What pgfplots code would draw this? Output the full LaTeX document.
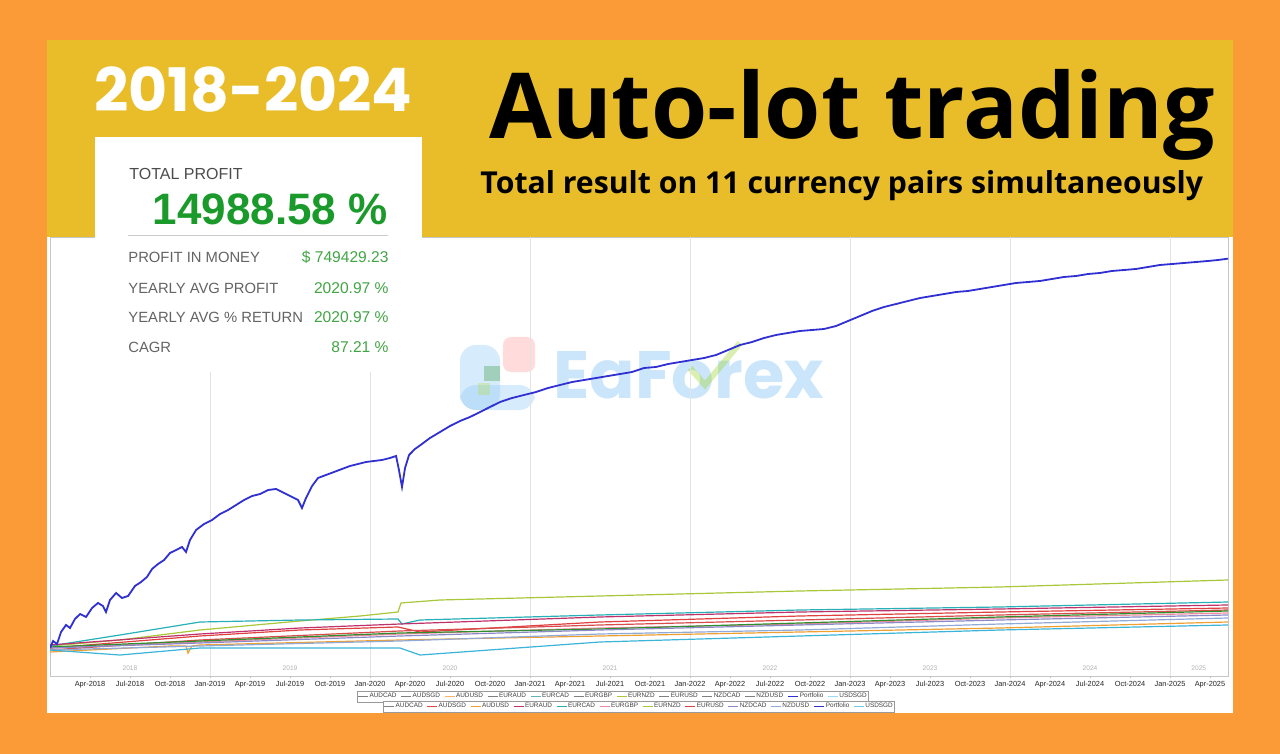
\documentclass[border=0pt]{standalone}
\usepackage{pgfplots}
\pgfplotsset{compat=1.18}
\usepackage{fontspec}
\setmainfont{Liberation Sans}
\newfontfamily\popfont{Poppins}
\newfontfamily\opfont{Open Sans}
\definecolor{bgorange}{RGB}{250,155,55}
\definecolor{bandyellow}{RGB}{233,189,42}
\definecolor{pblue}{RGB}{48,48,210}
\definecolor{bignum}{RGB}{26,154,42}
\definecolor{valgreen}{RGB}{66,165,69}
\definecolor{lblgray}{RGB}{100,100,100}
\definecolor{cEURNZD}{RGB}{168,200,58}
\definecolor{cEURCAD}{RGB}{40,176,184}
\definecolor{cEURAUD}{RGB}{192,48,106}
\definecolor{cEURUSD}{RGB}{224,64,64}
\definecolor{cAUDSGD}{RGB}{217,76,76}
\definecolor{cEURGBP}{RGB}{240,138,160}
\definecolor{cAUDCAD}{RGB}{47,143,47}
\definecolor{cAUDUSD}{RGB}{240,160,48}
\definecolor{cNZDCAD}{RGB}{138,138,200}
\definecolor{cNZDUSD}{RGB}{144,170,216}
\definecolor{cUSDSGD}{RGB}{58,181,216}
\definecolor{wmblue}{RGB}{140,200,245}
\pgfplotsset{
  mylegend/.style={
    legend columns=12,
    legend cell align=left,
    legend image code/.code={\draw[##1] (0pt,0pt) -- (5pt,0pt);},
    legend style={anchor=north west,
      font=\fontsize{3.2}{3.4}\selectfont, text=black!75, draw=gray!80, fill=white,
      inner sep=0.4pt, outer sep=0pt, nodes={inner sep=0.5pt},
      /tikz/every even column/.append style={column sep=1.6pt}},
  }
}
\begin{document}
\begin{tikzpicture}
% ---------- background ----------
\begin{scope}[x=0.5pt,y=-0.5pt]
\fill[bgorange] (0,0) rectangle (1280,754);
\fill[white] (47,40) rectangle (1233,713);
\fill[bandyellow] (47,40) rectangle (1233,237);
% watermark
\fill[wmblue,opacity=0.35,rounded corners=8pt] (460,345) rectangle (500,410);
\fill[wmblue,opacity=0.35,rounded corners=8pt] (460,385) rectangle (535,410);
\fill[red!40,opacity=0.35,rounded corners=4pt] (503,337) rectangle (535,372);
\fill[green!50!black,opacity=0.25] (484,366) rectangle (500,381);
\fill[yellow!70!green,opacity=0.25] (478,383) rectangle (490,395);
\node[anchor=base west,inner sep=0,text=wmblue,opacity=0.45,font=\popfont\bfseries\fontsize{33.5}{34}\selectfont] at (553,398) {EaForex};
\draw[yellow!60!green,opacity=0.35,line width=3pt] (690,368) -- (705,385) -- (740,343);
\end{scope}
% legend row 1 (drawn first, behind row 2)
\begin{axis}[
  at={(25pt,-338pt)}, anchor=south west,
  width=589pt, height=219.5pt, scale only axis,
  hide axis, xmin=0, xmax=1, ymin=0, ymax=1,
  mylegend,
  legend style={at={(0.2606,-0.0342)}},
]
\addlegendimage{gray}\addlegendentry{AUDCAD}
\addlegendimage{gray}\addlegendentry{AUDSGD}
\addlegendimage{orange!60}\addlegendentry{AUDUSD}
\addlegendimage{gray}\addlegendentry{EURAUD}
\addlegendimage{teal!60}\addlegendentry{EURCAD}
\addlegendimage{gray}\addlegendentry{EURGBP}
\addlegendimage{cEURNZD}\addlegendentry{EURNZD}
\addlegendimage{gray}\addlegendentry{EURUSD}
\addlegendimage{gray}\addlegendentry{NZDCAD}
\addlegendimage{gray}\addlegendentry{NZDUSD}
\addlegendimage{pblue,line width=0.8pt}\addlegendentry{Portfolio}
\addlegendimage{cyan!40}\addlegendentry{USDSGD}
\end{axis}
% ---------- main chart ----------
\begin{axis}[
  at={(25pt,-338pt)}, anchor=south west,
  width=589pt, height=219.5pt, scale only axis,
  xmin=2018, xmax=2025.3625,
  ymin=-1078, ymax=15823,
  ytick=\empty,
  xtick={2018.25,2018.5,2018.75,2019,2019.25,2019.5,2019.75,2020,2020.25,2020.5,2020.75,2021,2021.25,2021.5,2021.75,2022,2022.25,2022.5,2022.75,2023,2023.25,2023.5,2023.75,2024,2024.25,2024.5,2024.75,2025,2025.25},
  xticklabels={Apr-2018,Jul-2018,Oct-2018,Jan-2019,Apr-2019,Jul-2019,Oct-2019,Jan-2020,Apr-2020,Jul-2020,Oct-2020,Jan-2021,Apr-2021,Jul-2021,Oct-2021,Jan-2022,Apr-2022,Jul-2022,Oct-2022,Jan-2023,Apr-2023,Jul-2023,Oct-2023,Jan-2024,Apr-2024,Jul-2024,Oct-2024,Jan-2025,Apr-2025},
  xticklabel style={font=\fontsize{3.7}{4}\selectfont, text=black!85, yshift=2.2pt},
  tick align=outside, major tick length=1.2pt,
  xtick pos=bottom,
  tick style={gray!50},
  extra x ticks={2019,2020,2021,2022,2023,2024,2025},
  extra x tick labels={},
  extra x tick style={grid=major, major grid style={gray!22, line width=0.5pt}, major tick length=0pt},
  axis line style={gray!45},
  clip=true,
  mylegend,
  legend style={at={(0.2827,-0.057)}},
]
\addplot[forget plot, cEURNZD, line width=0.6pt] coordinates {
(2018.000,77) (2018.4375,308) (2018.9375,693) (2019.5625,1040) (2019.9375,1232) (2020.175,1386) (2020.194,1733) (2020.4375,1848) (2021.4375,2002) (2022.6875,2195) (2023.9375,2349) (2025.3625,2618)};
\addplot[forget plot, cEURCAD, line width=0.6pt] coordinates {
(2018.000,77) (2018.4375,501) (2018.9375,1001) (2019.5625,1078) (2020.175,1117) (2020.20,924) (2020.3125,1078) (2021.4375,1271) (2022.6875,1463) (2023.9375,1579) (2025.3625,1771)};
\addplot[forget plot, cEURAUD, line width=0.6pt] coordinates {
(2018.000,116) (2018.9375,539) (2019.5625,770) (2020.1875,924) (2021.4375,1194) (2022.6875,1386) (2023.9375,1502) (2025.3625,1656)};
\addplot[forget plot, cEURUSD, line width=0.6pt] coordinates {
(2018.000,0) (2018.9375,462) (2019.5625,693) (2020.175,809) (2020.3125,616) (2021.4375,1001) (2022.6875,1232) (2023.9375,1386) (2025.3625,1540)};
\addplot[forget plot, cAUDSGD, line width=0.6pt] coordinates {
(2018.000,-77) (2018.9375,308) (2020.1875,655) (2021.4375,886) (2022.6875,1078) (2023.9375,1271) (2025.3625,1463)};
\addplot[forget plot, cEURGBP, line width=0.6pt] coordinates {
(2018.000,0) (2018.9375,231) (2020.1875,539) (2021.4375,770) (2022.6875,924) (2023.9375,1155) (2025.3625,1348)};
\addplot[forget plot, cAUDCAD, line width=0.6pt] coordinates {
(2018.000,39) (2018.9375,270) (2020.1875,578) (2021.4375,732) (2022.6875,963) (2023.9375,1194) (2025.3625,1425)};
\addplot[forget plot, cAUDUSD, line width=0.6pt] coordinates {
(2018.000,-154) (2018.75,77) (2018.85,77) (2018.8625,-193) (2018.8875,77) (2018.9375,116) (2020.1875,308) (2021.4375,462) (2022.6875,616) (2023.9375,770) (2025.3625,1001)};
\addplot[forget plot, cNZDCAD, line width=0.6pt] coordinates {
(2018.000,0) (2018.9375,193) (2020.1875,462) (2021.4375,693) (2022.6875,886) (2023.9375,1078) (2025.3625,1271)};
\addplot[forget plot, cNZDUSD, line width=0.6pt] coordinates {
(2018.000,-77) (2018.9375,77) (2020.1875,270) (2021.4375,539) (2022.6875,693) (2023.9375,924) (2025.3625,1155)};
\addplot[forget plot, cUSDSGD, line width=0.6pt] coordinates {
(2018.000,-77) (2018.4375,-270) (2018.9375,0) (2020.1875,0) (2020.3125,-270) (2021.4375,231) (2022.6875,462) (2023.9375,693) (2025.3625,886)};
\addplot[forget plot, pblue, line width=0.9pt] coordinates {
(2018.000,0) (2018.019,270) (2018.044,154) (2018.069,616) (2018.100,886) (2018.125,770) (2018.156,1117) (2018.188,1309) (2018.225,1194) (2018.263,1540) (2018.300,1733) (2018.331,1617) (2018.350,1386) (2018.375,1848) (2018.413,2118) (2018.450,1925) (2018.488,2002) (2018.531,2387) (2018.569,2541) (2018.606,2734) (2018.638,3042) (2018.675,3234) (2018.713,3388) (2018.750,3658) (2018.788,3773) (2018.825,3889) (2018.850,3696) (2018.875,4158) (2018.913,4543) (2018.963,4774) (2019.013,4928) (2019.063,5159) (2019.113,5313) (2019.163,5506) (2019.213,5698) (2019.263,5852) (2019.313,5929) (2019.363,6083) (2019.413,6122) (2019.463,5968) (2019.513,5814) (2019.550,5698) (2019.575,5390) (2019.600,5775) (2019.638,6237) (2019.675,6545) (2019.725,6661) (2019.775,6776) (2019.825,6892) (2019.875,7007) (2019.925,7084) (2019.975,7161) (2020.025,7200) (2020.075,7238) (2020.125,7315) (2020.163,7392) (2020.181,6853) (2020.200,6199) (2020.219,6930) (2020.244,7431) (2020.281,7662) (2020.325,7854) (2020.375,8085) (2020.438,8316) (2020.500,8547) (2020.563,8740) (2020.625,8894) (2020.688,9086) (2020.750,9279) (2020.813,9471) (2020.888,9625) (2020.963,9741) (2021.038,9856) (2021.113,10010) (2021.188,10126) (2021.263,10241) (2021.338,10318) (2021.413,10395) (2021.488,10472) (2021.563,10549) (2021.638,10626) (2021.713,10780) (2021.788,10819) (2021.863,10934) (2021.938,11011) (2022.013,11088) (2022.088,11165) (2022.163,11281) (2022.238,11473) (2022.313,11666) (2022.388,11781) (2022.463,11935) (2022.538,12051) (2022.613,12128) (2022.688,12205) (2022.763,12243) (2022.838,12282) (2022.913,12397) (2022.988,12590) (2023.063,12782) (2023.138,12975) (2023.213,13129) (2023.288,13244) (2023.363,13360) (2023.438,13475) (2023.513,13552) (2023.588,13629) (2023.663,13706) (2023.738,13745) (2023.813,13822) (2023.888,13899) (2023.963,13976) (2024.038,14053) (2024.113,14091) (2024.188,14130) (2024.263,14207) (2024.338,14284) (2024.413,14322) (2024.488,14399) (2024.563,14438) (2024.638,14515) (2024.713,14553) (2024.788,14592) (2024.863,14669) (2024.938,14746) (2025.013,14784) (2025.088,14823) (2025.163,14861) (2025.238,14900) (2025.300,14938) (2025.363,14989)};
% legend row 2
\addlegendimage{gray}\addlegendentry{AUDCAD}
\addlegendimage{cAUDSGD}\addlegendentry{AUDSGD}
\addlegendimage{cAUDUSD}\addlegendentry{AUDUSD}
\addlegendimage{cEURAUD}\addlegendentry{EURAUD}
\addlegendimage{cEURCAD}\addlegendentry{EURCAD}
\addlegendimage{cEURGBP}\addlegendentry{EURGBP}
\addlegendimage{cEURNZD}\addlegendentry{EURNZD}
\addlegendimage{cEURUSD}\addlegendentry{EURUSD}
\addlegendimage{cNZDCAD}\addlegendentry{NZDCAD}
\addlegendimage{cNZDUSD}\addlegendentry{NZDUSD}
\addlegendimage{pblue,line width=0.8pt}\addlegendentry{Portfolio}
\addlegendimage{cUSDSGD!70}\addlegendentry{USDSGD}
% year labels
\node[font=\fontsize{3.3}{4}\selectfont, text=gray!60] at (axis cs:2018.5,-770) {2018};
\node[font=\fontsize{3.3}{4}\selectfont, text=gray!60] at (axis cs:2019.5,-770) {2019};
\node[font=\fontsize{3.3}{4}\selectfont, text=gray!60] at (axis cs:2020.5,-770) {2020};
\node[font=\fontsize{3.3}{4}\selectfont, text=gray!60] at (axis cs:2021.5,-770) {2021};
\node[font=\fontsize{3.3}{4}\selectfont, text=gray!60] at (axis cs:2022.5,-770) {2022};
\node[font=\fontsize{3.3}{4}\selectfont, text=gray!60] at (axis cs:2023.5,-770) {2023};
\node[font=\fontsize{3.3}{4}\selectfont, text=gray!60] at (axis cs:2024.5,-770) {2024};
\node[font=\fontsize{3.3}{4}\selectfont, text=gray!60] at (axis cs:2025.18,-770) {2025};
\end{axis}
% ---------- foreground texts and stats box ----------
\begin{scope}[x=0.5pt,y=-0.5pt]
\fill[white] (95,137) rectangle (422,372);
\node[anchor=base west,inner sep=0,text=white,font=\popfont\bfseries\fontsize{30}{30}\selectfont] at (94,112) {2018-2024};
\node[anchor=base west,inner sep=0,text=black,font=\opfont\bfseries\fontsize{45.5}{46}\selectfont] at (489,139) {Auto-lot trading};
\node[anchor=base west,inner sep=0,text=black,font=\opfont\bfseries\fontsize{15.1}{16}\selectfont] at (480,194) {Total result on 11 currency pairs simultaneously};
\node[anchor=base west,inner sep=0,text=black!70,font=\fontsize{8}{9}\selectfont] at (129,180) {TOTAL PROFIT};
\node[anchor=base east,inner sep=0,text=bignum,font=\bfseries\fontsize{22}{22}\selectfont] at (388,225) {14988.58 \%};
\draw[gray!40,line width=0.5pt] (128,236) -- (388,236);
\foreach \yy/\lab/\val in {263/PROFIT IN MONEY/\$ 749429.23, 293/YEARLY AVG PROFIT/2020.97 \%, 322/YEARLY AVG \% RETURN/2020.97 \%, 352/CAGR/87.21 \%}{
  \node[anchor=base west,inner sep=0,text=lblgray,font=\fontsize{7.4}{8}\selectfont] at (128,\yy) {\lab};
  \node[anchor=base east,inner sep=0,text=valgreen,font=\fontsize{7.8}{8}\selectfont] at (389,\yy) {\val};
}
\end{scope}
\end{tikzpicture}
\end{document}
